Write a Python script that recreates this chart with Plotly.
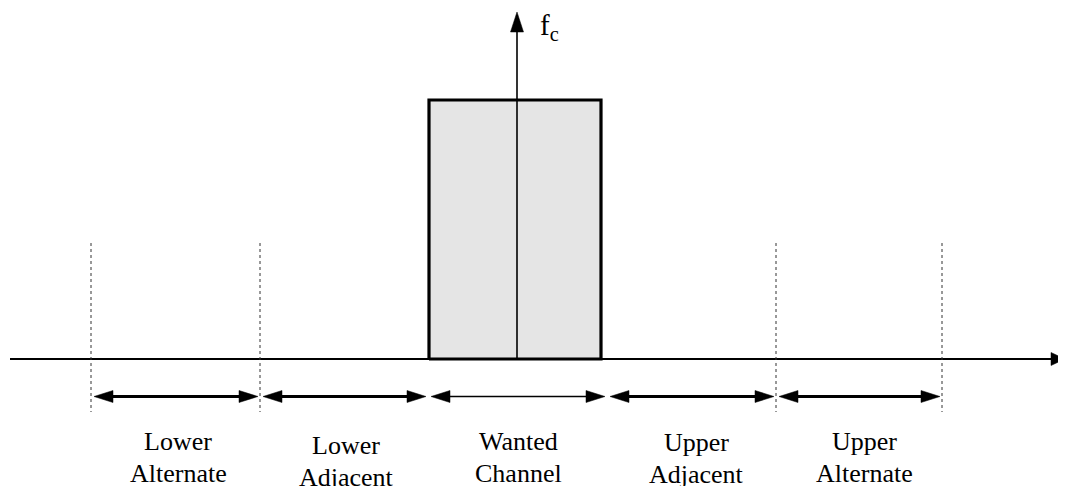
import plotly.graph_objects as go

# ---- data (diagram coordinates, pixel-like units, y grows downward) ----
band_labels_top = ["Lower", "Lower", "Wanted", "Upper", "Upper"]
band_labels_bottom = ["Alternate", "Adjacent", "Channel", "Adjacent", "Alternate"]
band_edges = [91, 260, 428, 607, 776, 942]          # arrow band boundaries
dotted_edges = [91, 260, 776, 942]                  # dotted marker lines
label_centers = [178, 346, 518, 696, 864]
label_shift = [0, 4, 0, 1, 0]
band_line_widths = [3, 3, 1.6, 3, 3]

channel_left, channel_right = 429, 601
channel_top = 100
fc_x = 517
baseline_y = 359
axis_x_start, axis_x_end = 10, 1065
axis_y_top = 12
arrow_y = 396.5
dotted_top, dotted_bottom = 243, 412

# page body margin compensation
PAGE_OFF = 8

fig = go.Figure()

def tri(x, y, direction, length, half):
    if direction == "right":
        return [x, x - length, x - length, x], [y, y - half, y + half, y]
    if direction == "left":
        return [x, x + length, x + length, x], [y, y - half, y + half, y]
    if direction == "up":
        return [x, x - half, x + half, x], [y, y + length, y + length, y]

def add_fill(xs, ys, color="black"):
    fig.add_trace(go.Scatter(x=xs, y=ys, mode="lines", fill="toself",
                             fillcolor=color, line=dict(color=color, width=0.5),
                             hoverinfo="skip", showlegend=False))

# channel box
fig.add_trace(go.Scatter(
    x=[channel_left, channel_left, channel_right, channel_right, channel_left],
    y=[baseline_y, channel_top, channel_top, baseline_y, baseline_y],
    mode="lines", fill="toself", fillcolor="#e5e5e5",
    line=dict(color="black", width=3.2), hoverinfo="skip", showlegend=False))

# horizontal frequency axis
fig.add_trace(go.Scatter(x=[axis_x_start, axis_x_end - 12], y=[baseline_y, baseline_y],
                         mode="lines", line=dict(color="black", width=2.2),
                         hoverinfo="skip", showlegend=False))
xs, ys = tri(axis_x_end, baseline_y, "right", 14, 6.5)
add_fill(xs, ys)

# vertical fc axis
fig.add_trace(go.Scatter(x=[fc_x, fc_x], y=[baseline_y, axis_y_top + 18],
                         mode="lines", line=dict(color="black", width=1.6),
                         hoverinfo="skip", showlegend=False))
xs, ys = tri(fc_x, axis_y_top, "up", 20, 6.5)
add_fill(xs, ys)

# dotted lines
for xv in dotted_edges:
    fig.add_trace(go.Scatter(x=[xv, xv], y=[dotted_top, dotted_bottom], mode="lines",
                             line=dict(color="#333333", width=1, dash="dot"),
                             hoverinfo="skip", showlegend=False))

# double-headed band arrows
for i in range(len(band_edges) - 1):
    a = band_edges[i] + 3
    b = band_edges[i + 1] - 2
    fig.add_trace(go.Scatter(x=[a + 15, b - 15], y=[arrow_y, arrow_y], mode="lines",
                             line=dict(color="black", width=band_line_widths[i]),
                             hoverinfo="skip", showlegend=False))
    xs, ys = tri(a, arrow_y, "left", 19, 6)
    add_fill(xs, ys)
    xs, ys = tri(b, arrow_y, "right", 19, 6)
    add_fill(xs, ys)

font = dict(family="Liberation Serif, Times New Roman, serif", size=26, color="black")
for cx, t1, t2, sh in zip(label_centers, band_labels_top, band_labels_bottom, label_shift):
    fig.add_annotation(x=cx, y=441 + sh, text=t1, showarrow=False, font=font,
                       xanchor="center", yanchor="middle")
    fig.add_annotation(x=cx, y=473 + sh, text=t2, showarrow=False, font=font,
                       xanchor="center", yanchor="middle")

fig.add_annotation(x=538, y=27, text="f<sub>c</sub>", showarrow=False,
                   font=dict(family=font["family"], size=29, color="black"),
                   xanchor="left", yanchor="middle")

fig.update_layout(
    width=1066 - PAGE_OFF, height=486 - PAGE_OFF,
    margin=dict(l=0, r=0, t=0, b=0),
    paper_bgcolor="white", plot_bgcolor="white",
    xaxis=dict(range=[PAGE_OFF, 1066], visible=False, fixedrange=True),
    yaxis=dict(range=[486, PAGE_OFF], visible=False, fixedrange=True),
    showlegend=False,
)

fig.write_html("out.html", config={"displayModeBar": False})
